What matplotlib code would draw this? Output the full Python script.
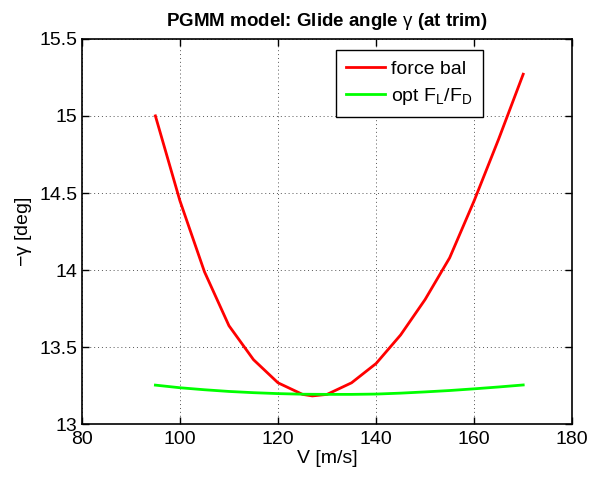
import numpy as np
import matplotlib
matplotlib.use("Agg")
from matplotlib import pyplot as plt

# trim speed [m/s]
v_force = [95, 100, 105, 110, 115, 120, 125, 127, 130, 135, 140, 145, 150, 155, 160, 165, 170]
# -gamma from force balance [deg]
gam_force = [15.00, 14.45, 13.99, 13.64, 13.42, 13.27, 13.195, 13.185, 13.195, 13.27, 13.395,
             13.58, 13.81, 14.08, 14.45, 14.85, 15.27]

v_opt = [95, 100, 105, 110, 115, 120, 125, 130, 135, 140, 145, 150, 155, 160, 165, 170]
# -gamma at optimal lift/drag [deg]
gam_opt = [13.255, 13.238, 13.225, 13.214, 13.206, 13.200, 13.196, 13.195, 13.195, 13.197,
           13.203, 13.211, 13.220, 13.231, 13.243, 13.256]

x_ticks = [80, 100, 120, 140, 160, 180]
y_ticks = [13, 13.5, 14, 14.5, 15, 15.5]
y_labels = ['13', '13.5', '14', '14.5', '15', '15.5']


def main():
    plt.rcParams['font.family'] = ['Liberation Sans', 'DejaVu Sans']
    plt.rcParams['mathtext.fontset'] = 'custom'
    plt.rcParams['mathtext.rm'] = 'Liberation Sans'
    plt.rcParams['mathtext.it'] = 'Liberation Sans'

    fig = plt.figure(figsize=(5.93, 4.78), dpi=100)
    ax = fig.add_axes([0.138, 0.112, 0.827, 0.807])

    ax.plot(v_force, gam_force, color=(1, 0, 0), lw=2.0, label='force bal')
    ax.plot(v_opt, gam_opt, color=(0, 1, 0), lw=2.0, label=r'opt F$_L$/F$_D$')

    ax.set_xlim(80, 180)
    ax.set_ylim(13, 15.5)
    ax.set_xticks(x_ticks)
    ax.set_yticks(y_ticks)
    ax.set_xticklabels([str(t) for t in x_ticks])
    ax.set_yticklabels(y_labels)
    ax.tick_params(direction='in', top=True, right=True, labelsize=14, length=5, width=1)
    ax.tick_params(axis='x', pad=5)
    ax.tick_params(axis='y', pad=3)
    for s in ax.spines.values():
        s.set_linewidth(1.2)

    ax.grid(True, color='#555555', linestyle=(0, (1, 3)), linewidth=0.7)

    ax.set_xlabel('V [m/s]', fontsize=14, labelpad=1)
    ax.set_ylabel('\u2212$\\gamma$ [deg]', fontsize=14, labelpad=4)
    ax.set_title('PGMM model: Glide angle $\\gamma$ (at trim)', fontsize=13.5,
                 fontweight='bold', pad=9)

    leg = ax.legend(loc='upper right', bbox_to_anchor=(0.818, 0.972), fontsize=14,
                    fancybox=False, framealpha=1, edgecolor='black', borderpad=0.55,
                    handlelength=2.0, handletextpad=0.3, labelspacing=0.4, borderaxespad=0)
    leg.get_frame().set_linewidth(1.0)

    fig.savefig('out.png', dpi=100)


if __name__ == '__main__':
    main()
